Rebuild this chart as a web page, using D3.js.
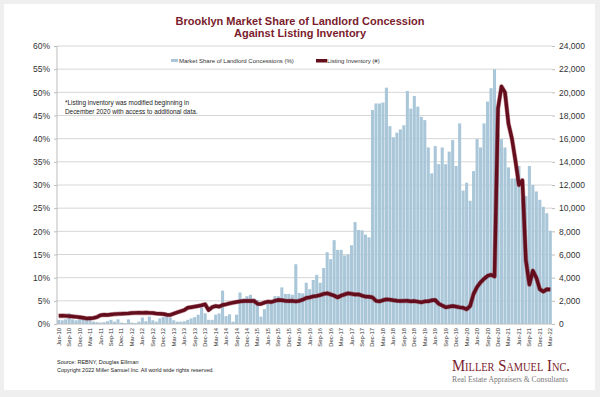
<!DOCTYPE html>
<html><head><meta charset="utf-8">
<script src="https://cdn.jsdelivr.net/npm/d3@7"></script>
<style>
html,body{margin:0;padding:0;background:#efefef;}
svg{display:block;}
</style></head>
<body>
<svg id="c" width="600" height="397"></svg>
<script>
// ---- DATA ----
const years = [10,11,12,13,14,15,16,17,18,19,20,21,22];
const monthNames = ["Jan","Feb","Mar","Apr","May","Jun","Jul","Aug","Sep","Oct","Nov","Dec"];
// months Jun-10 .. Mar-22
const months = [];
for (const y of years) for (let m = 0; m < 12; m++) {
  if (y === 10 && m < 5) continue;
  if (y === 22 && m > 2) continue;
  months.push(monthNames[m] + "-" + y);
}
// Market share of landlord concessions (%)
const concessions = [
  0.9,0.8,1.0,2.3,1.0,0.8,1.0,1.0,0.8,0.9,
  0.5,0.4,0.3,0.4,0.6,0.9,0.5,1.0,0.3,0.2,
  1.0,0.3,0.2,0.5,1.4,0.6,1.6,0.8,0.5,1.2,
  1.5,1.6,1.4,0.8,0.5,0.5,0.6,0.9,1.2,1.5,
  2.0,3.5,2.3,0.9,0.9,2.0,2.3,7.2,1.7,2.1,
  0.5,2.0,6.8,5.5,6.0,6.3,5.5,5.2,1.6,3.2,
  4.5,5.2,6.0,6.0,7.9,6.5,6.5,6.3,12.9,6.7,
  6.6,8.9,7.5,9.5,10.6,8.9,12.1,15.5,14.0,18.1,
  16.0,16.0,14.8,15.0,17.0,22.0,20.3,20.2,19.3,18.7,
  46.2,47.6,47.6,47.8,51.0,42.7,40.3,41.3,42.0,42.9,
  50.3,46.5,49.2,46.9,44.7,44.0,38.1,32.5,38.4,34.5,
  38.1,34.5,37.2,39.7,34.1,43.3,28.8,30.5,26.6,33.0,
  39.9,38.1,43.3,48.0,50.9,55.0,41.0,39.9,38.1,33.8,
  31.4,31.4,34.1,27.1,27.6,34.1,30.0,28.6,26.8,25.3,
  23.9,20.1
];
// Listing inventory (#)
const inventory = [
  700,720,700,680,650,620,580,540,480,500,
  520,600,760,800,780,820,850,870,880,900,
  920,950,960,975,960,980,960,950,900,880,
  860,800,780,900,1000,1100,1200,1400,1450,1500,
  1550,1620,1700,1200,1450,1550,1500,1640,1700,1780,
  1840,1900,1950,1990,2000,1980,2000,1750,1730,1850,
  1930,1900,2000,2070,2050,2000,1980,2000,1950,2000,
  2100,2250,2300,2380,2420,2500,2600,2650,2550,2450,
  2300,2450,2550,2650,2600,2550,2560,2450,2360,2350,
  2300,2000,1950,2050,2130,2100,2050,2010,1980,2000,
  2010,1950,1980,1930,1870,1950,1960,2050,2070,1750,
  1600,1440,1500,1550,1500,1440,1400,1270,1550,2600,
  3200,3600,3900,4150,4250,4100,18600,20500,20000,17300,
  16000,14100,12000,12400,5500,3400,4600,4000,3000,2800,
  3000,2980
];
const leftTicks = [0,5,10,15,20,25,30,35,40,45,50,55,60];
const rightTicks = [0,2000,4000,6000,8000,10000,12000,14000,16000,18000,20000,22000,24000];

// ---- CHART ----
const svg = d3.select("#c");
const L = 57, R = 552, T = 46, B = 324;
const font = "'Liberation Sans', Arial, sans-serif";
const maroon = "#7a1c2c";
const lineColor = "#640d1c";

svg.append("rect").attr("x",4).attr("y",4).attr("width",591).attr("height",386).attr("fill","#fff");

const x = d3.scaleBand().domain(months).range([L, R]).paddingInner(0.12).paddingOuter(0.05);
const yL = d3.scaleLinear().domain([0,60]).range([B, T]);
const yR = d3.scaleLinear().domain([0,24000]).range([B, T]);

// gridlines
svg.append("g").selectAll("line").data(leftTicks.slice(1)).join("line")
  .attr("x1", L).attr("x2", R).attr("y1", d=>yL(d)).attr("y2", d=>yL(d))
  .attr("stroke","#d6d6d6").attr("stroke-width",1);

// bars
svg.append("g").selectAll("rect").data(concessions).join("rect")
  .attr("x",(d,i)=>x(months[i])).attr("width",x.bandwidth())
  .attr("y",d=>yL(d)).attr("height",d=>B - yL(d))
  .attr("fill","#a9c7d9");

// axes lines
svg.append("line").attr("x1",L).attr("x2",L).attr("y1",T).attr("y2",B).attr("stroke","#bdbdbd");
svg.append("line").attr("x1",L).attr("x2",R).attr("y1",B).attr("y2",B).attr("stroke","#bdbdbd");

// left axis
const gl = svg.append("g").attr("transform",`translate(${L},0)`)
  .call(d3.axisLeft(yL).tickValues(leftTicks).tickFormat(d=>d+"%").tickSize(3).tickPadding(4));
gl.select(".domain").remove();
gl.selectAll("line").attr("stroke","#bdbdbd");
gl.selectAll("text").attr("font-family",font).attr("font-size",8.5).attr("fill","#333");

// right axis
const gr = svg.append("g").attr("transform",`translate(${R},0)`)
  .call(d3.axisRight(yR).tickValues(rightTicks).tickFormat(d3.format(",")).tickSize(3).tickPadding(4));
gr.select(".domain").remove();
gr.selectAll("line").attr("stroke","#bdbdbd");
gr.selectAll("text").attr("font-family",font).attr("font-size",8.5).attr("fill","#333");

// x labels
const xl = svg.append("g").attr("transform",`translate(0,${B})`)
  .call(d3.axisBottom(x).tickValues(months.filter((d,i)=>i%3===0)).tickSize(0).tickPadding(0));
xl.select(".domain").remove();
xl.selectAll("text").attr("font-family",font).attr("font-size",5.8).attr("fill","#333")
  .attr("text-anchor","end").attr("dy",0)
  .attr("transform","translate(2,4) rotate(-90)");

// line
const line = d3.line().x((d,i)=>x(months[i]) + x.bandwidth()/2).y(d=>yR(d)).curve(d3.curveLinear);
svg.append("path").datum(inventory).attr("d",line)
  .attr("fill","none").attr("stroke","#8a2a38").attr("stroke-opacity",0.5).attr("stroke-width",4.6).attr("stroke-linejoin","round");
svg.append("path").datum(inventory).attr("d",line)
  .attr("fill","none").attr("stroke",lineColor).attr("stroke-width",3.4).attr("stroke-linejoin","round");

// title
svg.append("text").attr("x",300).attr("y",24.5).attr("text-anchor","middle")
  .attr("font-family",font).attr("font-weight","bold").attr("font-size",11).attr("fill",maroon)
  .text("Brooklyn Market Share of Landlord Concession");
svg.append("text").attr("x",300).attr("y",37).attr("text-anchor","middle")
  .attr("font-family",font).attr("font-weight","bold").attr("font-size",11).attr("fill",maroon)
  .text("Against Listing Inventory");

// legend
svg.append("rect").attr("x",171).attr("y",59).attr("width",7).attr("height",3).attr("fill","#a9c7d9");
svg.append("text").attr("x",179).attr("y",63).attr("font-family",font).attr("font-size",6).attr("fill","#333")
  .text("Market Share of Landlord Concessions (%)");
svg.append("rect").attr("x",316).attr("y",59).attr("width",11).attr("height",3.5).attr("fill",lineColor);
svg.append("text").attr("x",327).attr("y",63).attr("font-family",font).attr("font-size",6).attr("fill","#333")
  .text("Listing Inventory (#)");

// footnote
svg.append("text").attr("x",65).attr("y",105).attr("font-family",font).attr("font-size",6.4).attr("fill","#222")
  .text("*Listing inventory was modified beginning in");
svg.append("text").attr("x",65).attr("y",113.5).attr("font-family",font).attr("font-size",6.4).attr("fill","#222")
  .text("December 2020 with access to additional data.");

// source
svg.append("text").attr("x",57).attr("y",364).attr("font-family",font).attr("font-size",5.5).attr("fill","#222")
  .text("Source: REBNY, Douglas Elliman");
svg.append("text").attr("x",57).attr("y",372).attr("font-family",font).attr("font-size",5.5).attr("fill","#222")
  .text("Copyright 2022 Miller Samuel Inc.   All world wide rights reserved.");

// logo
svg.append("text").attr("x",452).attr("y",371).attr("font-family","'Liberation Serif', 'Times New Roman', serif")
  .attr("font-size",17).attr("font-variant","small-caps").attr("fill",maroon)
  .attr("textLength",118).attr("lengthAdjust","spacingAndGlyphs")
  .text("Miller Samuel Inc.");
svg.append("text").attr("x",452).attr("y",382).attr("font-family","'Liberation Serif', 'Times New Roman', serif")
  .attr("font-size",9).attr("fill","#777")
  .attr("textLength",116).attr("lengthAdjust","spacingAndGlyphs")
  .text("Real Estate Appraisers & Consultants");
</script>
</body></html>
